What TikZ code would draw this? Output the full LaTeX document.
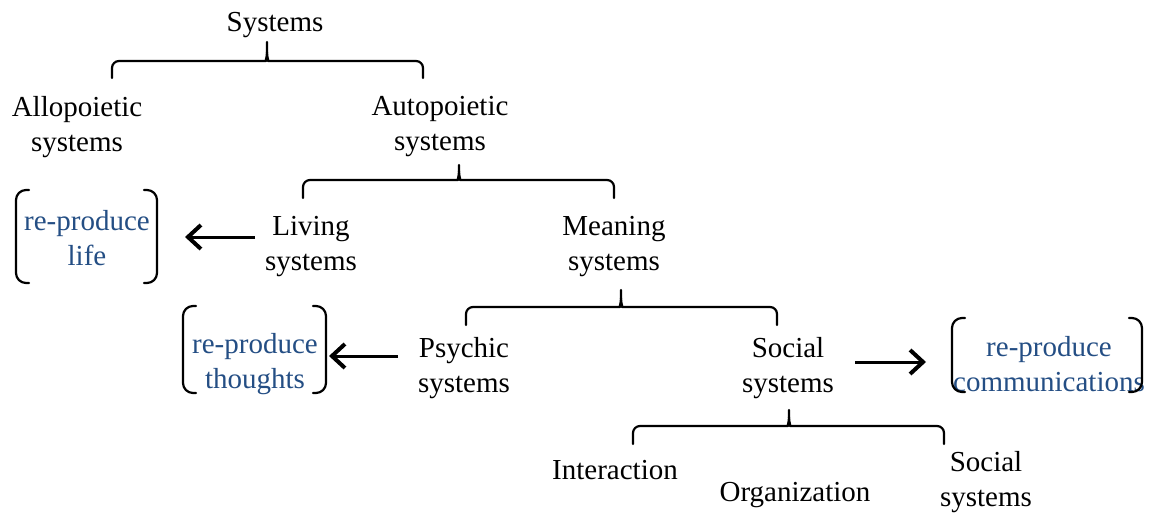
\documentclass[tikz,border=0pt]{standalone}
\usepackage{fontspec}
\setmainfont{Liberation Serif}
\usetikzlibrary{arrows.meta}
\definecolor{blu}{RGB}{36,78,132}
\newcommand\treebrace[6]{% x1 xc x2 ytop yh ybot
  \draw[brc] (#1,#6) [rounded corners=7pt] -- (#1,#5) -- (#2-8,#5) [sharp corners] .. controls (#2-2,#5) and (#2,#5-3) .. (#2,#5-9) -- (#2,#4);
  \draw[brc] (#3,#6) [rounded corners=7pt] -- (#3,#5) -- (#2+8,#5) [sharp corners] .. controls (#2+2,#5) and (#2,#5-3) .. (#2,#5-9);
}
\newcommand\bracketbox[4]{% x1 x2 ytop ybot
  \draw[brc] (#1+13,#3) [rounded corners=10pt] -- (#1,#3) -- (#1,#4) -- (#1+13,#4);
  \draw[brc] (#2-13,#3) [rounded corners=10pt] -- (#2,#3) -- (#2,#4) -- (#2-13,#4);
}
\begin{document}
\begin{tikzpicture}[x=1pt,y=-1pt,
  lbl/.style={align=center,font=\fontsize{29}{35}\selectfont,inner sep=0pt},
  bluelbl/.style={lbl,text=blu},
  brc/.style={line width=2.2pt,line join=round,line cap=round},
  arr/.style={line width=3pt,-{Straight Barb[length=13pt,width=24pt,line width=4pt]}}
]
\useasboundingbox (0,0) rectangle (1156,514);
% nodes
\node[lbl] (sys) at (275,25) {Systems};
\node[lbl] (allo) at (77,127) {Allopoietic\\systems};
\node[lbl] (auto) at (440,127) {Autopoietic\\systems};
\node[lbl] (living) at (311,247) {Living\\systems};
\node[lbl] (meaning) at (614,247) {Meaning\\systems};
\node[lbl] (psychic) at (464,368) {Psychic\\systems};
\node[lbl] (social) at (788,368) {Social\\systems};
\node[lbl] (inter) at (615,470) {Interaction};
\node[lbl] (org) at (795,495) {Organization};
\node[lbl] (soc2) at (986,482) {Social\\systems};
\node[bluelbl] (life) at (87,238) {re-produce\\life};
\node[bluelbl] (thoughts) at (255,364) {re-produce\\thoughts};
\node[bluelbl] (comm) at (1049,364) {re-produce\\communications};
% braces
\treebrace{112}{267}{423}{42}{61}{78}
\treebrace{303}{459}{614}{165}{180}{198}
\treebrace{466}{621}{777}{290}{307}{325}
\treebrace{633}{789}{944}{410}{426}{444}
% bracket boxes
\bracketbox{16}{157}{190}{283}
\bracketbox{183}{326}{306}{393}
\bracketbox{952}{1142}{318}{392}
% arrows
\coordinate (a1s) at (255,237); \coordinate (a1e) at (185,237);
\coordinate (a2s) at (398,356); \coordinate (a2e) at (329,356);
\coordinate (a3s) at (855,362); \coordinate (a3e) at (926,362);
\draw[arr] (a1s) -- (a1e);
\draw[arr] (a2s) -- (a2e);
\draw[arr] (a3s) -- (a3e);
\end{tikzpicture}
\end{document}
